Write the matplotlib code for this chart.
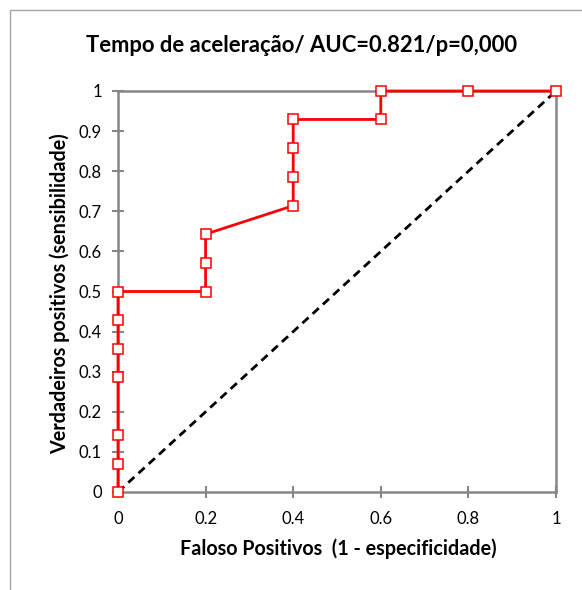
import matplotlib
matplotlib.use("Agg")
import matplotlib.pyplot as plt
from matplotlib.patches import Rectangle

plt.rcParams['font.family'] = ['Lato', 'DejaVu Sans']

# Data
fpr = [0, 0, 0, 0, 0, 0, 0, 0.2, 0.2, 0.2, 0.4, 0.4, 0.4, 0.4, 0.6, 0.6, 0.8, 1.0]
tpr = [0, 0.071, 0.143, 0.286, 0.357, 0.429, 0.5, 0.5, 0.571, 0.643,
       0.714, 0.786, 0.857, 0.929, 0.929, 1.0, 1.0, 1.0]
ref_x = [0, 1]
ref_y = [0, 1]
xticks = [0, 0.2, 0.4, 0.6, 0.8, 1]
xtick_labels = ['0', '0.2', '0.4', '0.6', '0.8', '1']
yticks = [0, 0.1, 0.2, 0.3, 0.4, 0.5, 0.6, 0.7, 0.8, 0.9, 1]
ytick_labels = ['0', '0.1', '0.2', '0.3', '0.4', '0.5', '0.6', '0.7', '0.8', '0.9', '1']
title = "Tempo de aceleração/ AUC=0.821/p=0,000"
xlabel = "Faloso Positivos  (1 - especificidade)"
ylabel = "Verdadeiros positivos (sensibilidade)"

W, H = 582, 590
fig = plt.figure(figsize=(W / 100, H / 100), dpi=100)

# outer chart-area frame (partially outside image)
fig.patches.append(Rectangle((10 / W, -0.05), 1.2, (H - 10) / H + 0.05,
                             transform=fig.transFigure, fill=False,
                             edgecolor='#a6a6a6', linewidth=1.0))

ax = fig.add_axes([118 / W, (H - 492) / H, (556 - 118) / W, (492 - 91) / H])

ax.plot(ref_x, ref_y, color='black', linestyle=(0, (3, 2)), linewidth=2.0, zorder=2)
ax.plot(fpr, tpr, color='#ff0000', linewidth=2.0, marker='s', markersize=6.5,
        markerfacecolor='white', markeredgecolor='#ff0000', markeredgewidth=1.1,
        zorder=3, clip_on=False)

ax.set_xlim(0, 1)
ax.set_ylim(0, 1)
ax.set_xticks(xticks)
ax.set_xticklabels(xtick_labels)
ax.set_yticks(yticks)
ax.set_yticklabels(ytick_labels)

for s in ax.spines.values():
    s.set_color('#868686')
    s.set_linewidth(1.8)
    s.set_zorder(1)

ax.tick_params(axis='both', direction='inout', length=9, width=1.5,
               color='#868686', labelsize=12, labelcolor='black')
ax.tick_params(axis='x', pad=9)
ax.tick_params(axis='y', pad=7)

fig.text(302 / W, 1 - 46 / H, title, fontsize=15.8, fontweight='bold',
         ha='center', va='center')
fig.text(338 / W, 1 - 549 / H, xlabel, fontsize=14.2, fontweight='bold',
         ha='center', va='center')
fig.text(60 / W, 1 - 294 / H, ylabel, fontsize=14.2, fontweight='bold',
         ha='center', va='center', rotation=90)

fig.savefig("out.png", dpi=100)
